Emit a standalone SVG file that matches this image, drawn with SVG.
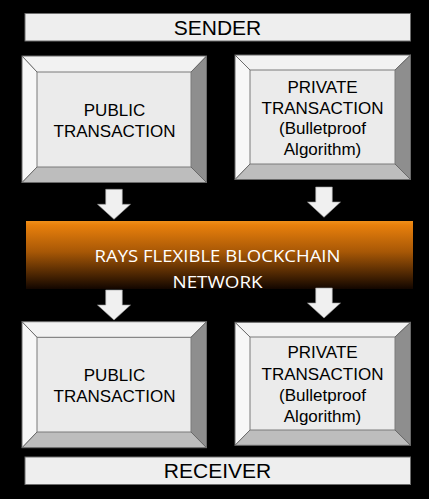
<svg xmlns="http://www.w3.org/2000/svg" width="429" height="499" viewBox="0 0 429 499">
<defs>
<linearGradient id="org" x1="0" y1="0" x2="0" y2="1">
<stop offset="0" stop-color="#F0901A"/>
<stop offset="0.06" stop-color="#E8800C"/>
<stop offset="0.45" stop-color="#A85806"/>
<stop offset="1" stop-color="#120600"/>
</linearGradient>
<style>
.bar{fill:#EEEEEE;stroke:#6E6E6E;stroke-width:1}
.t{font-family:"Liberation Sans",Arial,sans-serif;fill:#000;text-anchor:middle}
.face{fill:#EBEBEB;stroke:#7A7A7A;stroke-width:1}
.top{fill:#F2F2F2}
.left{fill:#F7F7F7}
.right{fill:#8E8E8E}
.bot{fill:#BDBDBD}
.edge{fill:none;stroke:#6A6A6A;stroke-width:1}
.arr{fill:#F0F0F0;stroke:#9A9A9A;stroke-width:0.6}
.w{font-family:"Open Sans","Noto Sans",sans-serif;fill:#FFFFFF;text-anchor:middle;font-size:17px}
</style>
</defs>
<rect width="429" height="499" fill="#000"/>

<g id="sender">
<rect class="bar" x="25" y="13.5" width="385.5" height="27.5"/>
<text class="t" x="217.5" y="35" font-size="21">SENDER</text>
</g>

<g id="public-top">
<polygon class="top" points="22,56 206.5,56 191,72 37,72"/>
<polygon class="left" points="22,56 37,72 37,167 22,182.5"/>
<polygon class="right" points="206.5,56 206.5,182.5 191,167 191,72"/>
<polygon class="bot" points="22,182.5 37,167 191,167 206.5,182.5"/>
<rect class="face" x="37" y="72" width="154" height="95"/>
<path class="edge" d="M22,56 L37,72 M206.5,56 L191,72 M22,182.5 L37,167 M206.5,182.5 L191,167"/>
<rect class="edge" x="22" y="56" width="184.5" height="126.5"/>
<text class="t" x="114.5" y="115.7" font-size="17">PUBLIC</text>
<text class="t" x="114.5" y="137.3" font-size="17">TRANSACTION</text>
</g>

<g id="private-top">
<polygon class="top" points="235,55 410.5,55 395,70 250,70"/>
<polygon class="left" points="235,55 250,70 250,164 235,179.5"/>
<polygon class="right" points="410.5,55 410.5,179.5 395,164 395,70"/>
<polygon class="bot" points="235,179.5 250,164 395,164 410.5,179.5"/>
<rect class="face" x="250" y="70" width="145" height="94"/>
<path class="edge" d="M235,55 L250,70 M410.5,55 L395,70 M235,179.5 L250,164 M410.5,179.5 L395,164"/>
<rect class="edge" x="235" y="55" width="175.5" height="124.5"/>
<text class="t" x="322.5" y="93.3" font-size="17">PRIVATE</text>
<text class="t" x="322.5" y="113.7" font-size="17">TRANSACTION</text>
<text class="t" x="322.5" y="134.3" font-size="17">(Bulletproof</text>
<text class="t" x="322.5" y="155" font-size="17">Algorithm)</text>
</g>

<g id="network">
<rect x="26" y="221" width="387" height="68" fill="url(#org)"/>
<text class="w" x="217.5" y="261.7" textLength="246" lengthAdjust="spacingAndGlyphs">RAYS FLEXIBLE BLOCKCHAIN</text>
<text class="w" x="217.5" y="288.3" textLength="90" lengthAdjust="spacingAndGlyphs">NETWORK</text>
</g>

<g id="connectors">
<polygon class="arr" points="105.7,189.3 122.3,189.3 122.3,204.3 130.5,204.3 114,219.3 97.5,204.3 105.7,204.3"/>
<polygon class="arr" points="315.7,187 332.3,187 332.3,202 340.5,202 324,217.3 307.5,202 315.7,202"/>
<polygon class="arr" points="105.7,290 122.3,290 122.3,305 130.5,305 114,320 97.5,305 105.7,305"/>
<polygon class="arr" points="315.7,288 332.3,288 332.3,303 340.5,303 324,318 307.5,303 315.7,303"/>
</g>

<g id="public-bottom">
<polygon class="top" points="22,321.7 206.5,321.7 191,337.3 37,337.3"/>
<polygon class="left" points="22,321.7 37,337.3 37,432 22,447.7"/>
<polygon class="right" points="206.5,321.7 206.5,447.7 191,432 191,337.3"/>
<polygon class="bot" points="22,447.7 37,432 191,432 206.5,447.7"/>
<rect class="face" x="37" y="337.3" width="154" height="94.7"/>
<path class="edge" d="M22,321.7 L37,337.3 M206.5,321.7 L191,337.3 M22,447.7 L37,432 M206.5,447.7 L191,432"/>
<rect class="edge" x="22" y="321.7" width="184.5" height="126"/>
<text class="t" x="114.5" y="381" font-size="17">PUBLIC</text>
<text class="t" x="114.5" y="401.7" font-size="17">TRANSACTION</text>
</g>

<g id="private-bottom">
<polygon class="top" points="235,322.3 410.5,322.3 395,337 250,337"/>
<polygon class="left" points="235,322.3 250,337 250,430 235,445.3"/>
<polygon class="right" points="410.5,322.3 410.5,445.3 395,430 395,337"/>
<polygon class="bot" points="235,445.3 250,430 395,430 410.5,445.3"/>
<rect class="face" x="250" y="337" width="145" height="93"/>
<path class="edge" d="M235,322.3 L250,337 M410.5,322.3 L395,337 M235,445.3 L250,430 M410.5,445.3 L395,430"/>
<rect class="edge" x="235" y="322.3" width="175.5" height="123"/>
<text class="t" x="322.5" y="358.3" font-size="17">PRIVATE</text>
<text class="t" x="322.5" y="380" font-size="17">TRANSACTION</text>
<text class="t" x="322.5" y="401" font-size="17">(Bulletproof</text>
<text class="t" x="322.5" y="421.7" font-size="17">Algorithm)</text>
</g>

<g id="receiver">
<rect class="bar" x="25" y="457" width="385.5" height="27.5"/>
<text class="t" x="217.5" y="478.3" font-size="21">RECEIVER</text>
</g>
</svg>
